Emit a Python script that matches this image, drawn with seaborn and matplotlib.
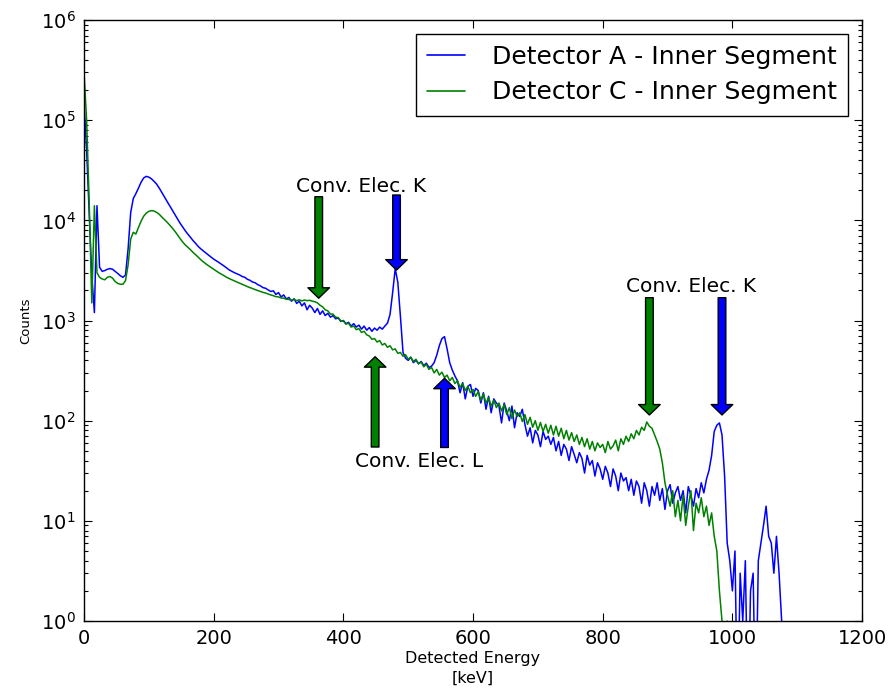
import numpy as np
import pandas as pd
import matplotlib
matplotlib.use("Agg")
import matplotlib.pyplot as plt
import seaborn as sns

# Spectra in 4 keV bins, starting at 0 keV
energy_kev = np.arange(0, 1084, 4)

counts_det_a = [
    150000, 50000, 12000, 2800, 1200, 14000, 3400, 3100, 3150, 3250,      # 0-36
    3300, 3250, 3100, 2950, 2800, 2700, 2850, 5200, 12000, 16500,         # 40-76
    18500, 21000, 24000, 26500, 27500, 27000, 26000, 24500, 23000, 21000, # 80-116
    19000, 17200, 15500, 14000, 12700, 11500, 10400, 9400, 8600, 7900,    # 120-156
    7300, 6800, 6300, 5900, 5500, 5200, 4950, 4700, 4500, 4300,           # 160-196
    4100, 3950, 3800, 3650, 3500, 3350, 3200, 3100, 3000, 2920,           # 200-236
    2850, 2750, 2700, 2580, 2520, 2420, 2380, 2280, 2220, 2130,           # 240-276
    2100, 2020, 1950, 1980, 1820, 1900, 1720, 1800, 1640, 1700,           # 280-316
    1560, 1650, 1480, 1560, 1400, 1500, 1280, 1420, 1330, 1200,           # 320-356
    1320, 1150, 1250, 1120, 1180, 1080, 1120, 1040, 1060, 980,            # 360-396
    1000, 930, 960, 880, 930, 860, 900, 820, 880, 800,                    # 400-436
    850, 780, 840, 800, 860, 820, 880, 940, 1150, 1900,                   # 440-476
    3300, 2400, 1100, 480, 420, 400, 430, 380, 400, 370,                  # 480-516
    390, 355, 375, 340, 350, 380, 450, 560, 660, 690,                     # 520-556
    520, 380, 320, 280, 250, 190, 240, 165, 220, 230,                     # 560-596
    175, 210, 200, 150, 190, 130, 175, 120, 165, 150,                     # 600-636
    140, 95, 150, 125, 100, 140, 85, 120, 110, 130,                       # 640-676
    92, 70, 85, 60, 80, 72, 55, 78, 65, 70,                               # 680-716
    58, 68, 50, 62, 45, 58, 52, 40, 55, 46,                               # 720-756
    38, 48, 42, 30, 45, 36, 40, 28, 38, 33,                               # 760-796
    26, 35, 30, 22, 33, 28, 20, 30, 25, 27,                               # 800-836
    20, 26, 18, 25, 22, 15, 24, 20, 14, 22,                               # 840-876
    18, 24, 16, 21, 13, 20, 23, 15, 19, 22,                               # 880-916
    16, 20, 12, 22, 18, 14, 21, 17, 24, 19,                               # 920-956
    26, 32, 45, 78, 90, 95, 72, 28, 6, 4,                                 # 960-996
    2, 5, 0, 3, 1, 4, 0, 2, 3, 0,                                         # 1000-1036
    4, 6, 9, 14, 7, 6, 3, 7, 3, 1,                                        # 1040-1076
    0,                                                                    # 1080
]

counts_det_c = [
    300000, 100000, 15000, 1500, 14000, 3000, 2700, 2600, 2550, 2700,     # 0-36
    2750, 2650, 2450, 2350, 2300, 2300, 2500, 3600, 6500, 7600,           # 40-76
    7300, 8500, 9800, 11000, 11800, 12300, 12500, 12400, 12000, 11500,    # 80-116
    10800, 10200, 9600, 9000, 8400, 7800, 7200, 6600, 6100, 5700,         # 120-156
    5400, 5100, 4800, 4550, 4300, 4050, 3850, 3680, 3520, 3380,           # 160-196
    3250, 3120, 3000, 2900, 2800, 2700, 2620, 2550, 2480, 2420,           # 200-236
    2360, 2300, 2240, 2180, 2130, 2080, 2030, 1990, 1950, 1910,           # 240-276
    1880, 1840, 1800, 1770, 1730, 1720, 1680, 1670, 1630, 1620,           # 280-316
    1600, 1620, 1580, 1610, 1570, 1600, 1580, 1590, 1560, 1540,           # 320-356
    1500, 1420, 1370, 1280, 1250, 1160, 1160, 1080, 1070, 990,            # 360-396
    990, 920, 940, 860, 880, 810, 830, 760, 780, 720,                     # 400-436
    700, 650, 660, 610, 630, 570, 590, 540, 560, 510,                     # 440-476
    520, 470, 480, 440, 455, 410, 430, 390, 410, 370,                     # 480-516
    385, 345, 365, 325, 340, 300, 325, 285, 305, 270,                     # 520-556
    285, 250, 270, 235, 250, 215, 235, 200, 220, 190,                     # 560-596
    205, 175, 195, 160, 185, 150, 170, 140, 160, 135,                     # 600-636
    150, 125, 145, 115, 135, 105, 128, 110, 120, 98,                      # 640-676
    115, 92, 108, 86, 100, 80, 96, 78, 92, 75,                            # 680-716
    90, 72, 88, 70, 84, 66, 80, 64, 76, 62,                               # 720-756
    72, 58, 68, 55, 66, 52, 62, 50, 60, 54,                               # 760-796
    58, 48, 62, 52, 56, 64, 50, 66, 58, 70,                               # 800-836
    62, 74, 66, 80, 72, 86, 80, 97, 88, 84,                               # 840-876
    72, 62, 52, 38, 24, 18, 14, 20, 11, 16,                               # 880-916
    10, 18, 9, 14, 20, 8, 15, 12, 17, 11,                                 # 920-956
    14, 9, 12, 7, 5, 2, 1, 0, 1, 0,                                       # 960-996
    0, 0, 0, 0, 0, 0, 0, 0, 0, 0,                                         # 1000-1036
    0, 0, 0, 0, 0, 0, 0, 0, 0, 0,                                         # 1040-1076
    0,                                                                    # 1080
]

detector_labels = ["Detector A - Inner Segment", "Detector C - Inner Segment"]
detector_colors = ["#0000ff", "#008000"]

x_ticks = [0, 200, 400, 600, 800, 1000, 1200]

# Conversion-electron markers: (energy, tail counts, tip counts, colour)
arrows_down = [
    (362, 1.72e4, 1.67e3, "#008000"),
    (482, 1.79e4, 3.19e3, "#0000ff"),
    (872, 1.69e3, 1.14e2, "#008000"),
    (984, 1.69e3, 1.14e2, "#0000ff"),
]
arrows_up = [
    (449, 54.6, 435, "#008000"),
    (556, 54.0, 265, "#0000ff"),
]
arrow_texts = [
    (428, 1.92e4, "Conv. Elec. K"),
    (516, 34.5, "Conv. Elec. L"),
    (937, 1.92e3, "Conv. Elec. K"),
]

sns.set_style("ticks")
plt.rcParams["font.family"] = ["DejaVu Sans"]
plt.rcParams.update({
    "text.color": "black",
    "axes.labelcolor": "black",
    "xtick.direction": "in",
    "ytick.direction": "in",
    "xtick.top": True,
    "ytick.right": True,
    "xtick.major.size": 6,
    "ytick.major.size": 6,
    "ytick.minor.size": 3,
    "xtick.major.width": 0.8,
    "ytick.major.width": 0.8,
    "ytick.minor.width": 0.8,
    "axes.linewidth": 1.0,
    "axes.edgecolor": "black",
    "xtick.color": "black",
    "ytick.color": "black",
    "xtick.labelcolor": "black",
    "ytick.labelcolor": "black",
})

frames = []
for label, counts in zip(detector_labels, [counts_det_a, counts_det_c]):
    n = min(len(counts), len(energy_kev))
    frames.append(pd.DataFrame({
        "energy": energy_kev[:n],
        "counts": np.asarray(counts[:n], dtype=float),
        "detector": label,
    }))
df = pd.concat(frames, ignore_index=True)
# Empty bins are drawn just below the axis floor so the trace drops off the plot
df["plot_counts"] = df["counts"].where(df["counts"] > 0, 0.1)

fig = plt.figure(figsize=(8.9, 6.93), dpi=100)
ax = fig.add_axes([0.0944, 0.1039, 0.8742, 0.8672])

sns.lineplot(
    data=df, x="energy", y="plot_counts", hue="detector",
    hue_order=detector_labels, palette=detector_colors,
    estimator=None, sort=True, linewidth=1.1, ax=ax,
)

ax.set_yscale("log")
ax.set_ylim(1, 1e6)
ax.set_xlim(0, 1200)
ax.set_xticks(x_ticks)
ax.set_xticklabels([str(t) for t in x_ticks])
ax.tick_params(axis="x", which="minor", bottom=False, top=False)
ax.tick_params(axis="both", which="major", labelsize=14, pad=6)

ax.set_xlabel("Detected Energy\n[keV]", fontsize=11.5, linespacing=1.35,
              labelpad=2)
ax.set_ylabel("Counts", fontsize=9.5, labelpad=6)

for x, tail, tip, col in arrows_down + arrows_up:
    ax.annotate(
        "", xy=(x, tip), xytext=(x, tail),
        arrowprops=dict(facecolor=col, edgecolor="black", linewidth=1.0,
                        width=5.5, headwidth=15.5, headlength=7.5, shrink=0.0),
    )
for x, y, txt in arrow_texts:
    ax.text(x, y, txt, ha="center", va="baseline", fontsize=14.5,
            color="black")

old_leg = ax.get_legend()
handles = old_leg.legend_handles
labels = [t.get_text() for t in old_leg.get_texts()]
old_leg.remove()
leg = ax.legend(
    handles, labels, loc="upper right", fontsize=18, frameon=True,
    fancybox=False, edgecolor="black", framealpha=1.0,
    handlelength=1.5, handletextpad=1.1, borderpad=0.45, labelspacing=0.45,
    borderaxespad=0.55,
)
leg.get_frame().set_linewidth(1.0)
for h in leg.legend_handles:
    h.set_linewidth(1.2)
for t in leg.get_texts():
    t.set_color("black")

fig.savefig("out.png", dpi=100)
